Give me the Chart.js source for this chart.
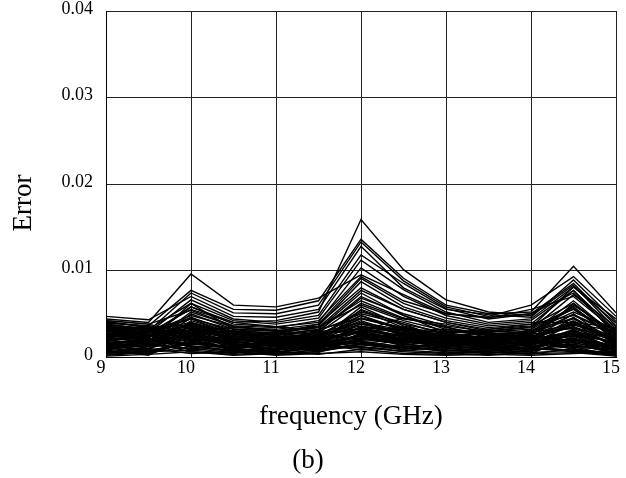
<!DOCTYPE html>
<html>
<head>
<meta charset="utf-8">
<script src="https://cdn.jsdelivr.net/npm/chart.js@4.4.1/dist/chart.umd.min.js"></script>
<style>
  html, body { margin: 0; padding: 0; background: #fff; }
  #wrap { width: 626px; height: 478px; }
</style>
</head>
<body>
<div id="wrap"><canvas id="myChart" width="626" height="478"></canvas></div>
<script>
// frequency points (GHz) where each run was sampled
const freqs = [9, 9.5, 10, 10.5, 11, 11.5, 12, 12.5, 13, 13.5, 14, 14.5, 15];
const freqTicks = [9, 10, 11, 12, 13, 14, 15];
const errorTicks = [0, 0.01, 0.02, 0.03, 0.04];

// runs with the big peaks at 10, 12 and 14.5 GHz
const highRuns = [
    [0.0030, 0.0025, 0.0058, 0.0040, 0.0042, 0.0052, 0.0159, 0.0101, 0.0066, 0.0052, 0.0048, 0.0083, 0.0032],
    [0.0044, 0.0040, 0.0096, 0.0060, 0.0058, 0.0068, 0.0095, 0.0072, 0.0050, 0.0045, 0.0055, 0.0070, 0.0030],
    [0.0040, 0.0036, 0.0077, 0.0055, 0.0054, 0.0065, 0.0136, 0.0091, 0.0060, 0.0050, 0.0052, 0.0105, 0.0051],
    [0.0035, 0.0030, 0.0074, 0.0051, 0.0050, 0.0060, 0.0133, 0.0088, 0.0058, 0.0047, 0.0060, 0.0093, 0.0047],
    [0.0047, 0.0043, 0.0070, 0.0047, 0.0046, 0.0055, 0.0128, 0.0080, 0.0055, 0.0049, 0.0046, 0.0089, 0.0041],
    [0.0025, 0.0028, 0.0066, 0.0044, 0.0040, 0.0048, 0.0118, 0.0085, 0.0056, 0.0044, 0.0050, 0.0085, 0.0036],
    [0.0038, 0.0032, 0.0062, 0.0042, 0.0038, 0.0045, 0.0112, 0.0078, 0.0052, 0.0040, 0.0044, 0.0081, 0.0039]
];

const midRuns = [
    [0.0020, 0.0022, 0.0058, 0.0038, 0.0035, 0.0040, 0.0103, 0.0070, 0.0048, 0.0038, 0.0042, 0.0077, 0.0030],
    [0.0042, 0.0038, 0.0054, 0.0036, 0.0034, 0.0042, 0.0093, 0.0065, 0.0050, 0.0046, 0.0050, 0.0074, 0.0028],
    [0.0030, 0.0026, 0.0030, 0.0034, 0.0032, 0.0038, 0.0091, 0.0062, 0.0045, 0.0036, 0.0040, 0.0040, 0.0034],
    [0.0015, 0.0018, 0.0062, 0.0032, 0.0030, 0.0036, 0.0087, 0.0058, 0.0042, 0.0034, 0.0038, 0.0077, 0.0025],
    [0.0033, 0.0035, 0.0024, 0.0030, 0.0028, 0.0034, 0.0077, 0.0055, 0.0040, 0.0032, 0.0036, 0.0062, 0.0022],
    [0.0028, 0.0024, 0.0046, 0.0028, 0.0026, 0.0032, 0.0074, 0.0048, 0.0028, 0.0030, 0.0034, 0.0081, 0.0044],
    [0.0036, 0.0031, 0.0044, 0.0026, 0.0025, 0.0030, 0.0068, 0.0050, 0.0036, 0.0029, 0.0032, 0.0058, 0.0018],
    [0.0016, 0.0012, 0.0050, 0.0032, 0.0026, 0.0038, 0.0080, 0.0055, 0.0040, 0.0030, 0.0028, 0.0065, 0.0024],
    [0.0023, 0.0016, 0.0052, 0.0036, 0.0030, 0.0034, 0.0065, 0.0045, 0.0034, 0.0026, 0.0030, 0.0056, 0.0026],
    [0.0010, 0.0020, 0.0030, 0.0012, 0.0018, 0.0030, 0.0070, 0.0048, 0.0032, 0.0026, 0.0020, 0.0050, 0.0014],
    [0.0034, 0.0028, 0.0044, 0.0032, 0.0030, 0.0026, 0.0048, 0.0032, 0.0022, 0.0020, 0.0032, 0.0072, 0.0035],
    [0.0026, 0.0018, 0.0032, 0.0020, 0.0016, 0.0028, 0.0062, 0.0044, 0.0038, 0.0028, 0.0022, 0.0042, 0.0016]
];

// the dense bundle near zero
const lowRuns = [
    [0.0012, 0.0018, 0.0035, 0.0022, 0.0015, 0.0020, 0.0048, 0.0030, 0.0022, 0.0018, 0.0014, 0.0040, 0.0009],
    [0.0030, 0.0022, 0.0015, 0.0010, 0.0014, 0.0025, 0.0020, 0.0028, 0.0016, 0.0020, 0.0025, 0.0018, 0.0012],
    [0.0005, 0.0008, 0.0042, 0.0028, 0.0020, 0.0012, 0.0030, 0.0045, 0.0035, 0.0022, 0.0018, 0.0030, 0.0015],
    [0.0025, 0.0030, 0.0020, 0.0008, 0.0005, 0.0015, 0.0055, 0.0038, 0.0020, 0.0012, 0.0020, 0.0062, 0.0025],
    [0.0018, 0.0010, 0.0028, 0.0030, 0.0025, 0.0018, 0.0012, 0.0020, 0.0030, 0.0028, 0.0010, 0.0008, 0.0005],
    [0.0040, 0.0035, 0.0030, 0.0018, 0.0022, 0.0028, 0.0040, 0.0025, 0.0018, 0.0024, 0.0030, 0.0045, 0.0020],
    [0.0008, 0.0015, 0.0010, 0.0005, 0.0008, 0.0012, 0.0025, 0.0015, 0.0010, 0.0008, 0.0012, 0.0022, 0.0003],
    [0.0022, 0.0028, 0.0048, 0.0035, 0.0030, 0.0035, 0.0060, 0.0042, 0.0030, 0.0025, 0.0022, 0.0035, 0.0018],
    [0.0035, 0.0025, 0.0018, 0.0022, 0.0018, 0.0010, 0.0035, 0.0028, 0.0025, 0.0015, 0.0018, 0.0028, 0.0010],
    [0.0015, 0.0012, 0.0025, 0.0015, 0.0010, 0.0022, 0.0045, 0.0032, 0.0028, 0.0030, 0.0035, 0.0055, 0.0022],
    [0.0002, 0.0005, 0.0012, 0.0008, 0.0004, 0.0006, 0.0015, 0.0010, 0.0008, 0.0005, 0.0003, 0.0010, 0.0002],
    [0.0028, 0.0020, 0.0038, 0.0025, 0.0028, 0.0020, 0.0028, 0.0035, 0.0022, 0.0018, 0.0028, 0.0038, 0.0030],
    [0.0038, 0.0032, 0.0022, 0.0015, 0.0012, 0.0018, 0.0022, 0.0018, 0.0014, 0.0020, 0.0015, 0.0025, 0.0008],
    [0.0020, 0.0015, 0.0045, 0.0030, 0.0022, 0.0025, 0.0038, 0.0030, 0.0020, 0.0015, 0.0025, 0.0060, 0.0028],
    [0.0006, 0.0003, 0.0018, 0.0025, 0.0015, 0.0010, 0.0018, 0.0022, 0.0015, 0.0012, 0.0008, 0.0015, 0.0004],
    [0.0032, 0.0028, 0.0055, 0.0040, 0.0035, 0.0030, 0.0050, 0.0038, 0.0028, 0.0032, 0.0038, 0.0048, 0.0026],
    [0.0014, 0.0022, 0.0008, 0.0012, 0.0020, 0.0015, 0.0010, 0.0014, 0.0020, 0.0010, 0.0015, 0.0020, 0.0012],
    [0.0004, 0.0010, 0.0022, 0.0018, 0.0012, 0.0008, 0.0040, 0.0025, 0.0012, 0.0010, 0.0014, 0.0032, 0.0006],
    [0.0036, 0.0030, 0.0040, 0.0028, 0.0025, 0.0032, 0.0045, 0.0034, 0.0024, 0.0022, 0.0030, 0.0052, 0.0032],
    [0.0012, 0.0008, 0.0015, 0.0020, 0.0028, 0.0022, 0.0030, 0.0020, 0.0018, 0.0025, 0.0020, 0.0016, 0.0010],
    [0.0024, 0.0026, 0.0036, 0.0022, 0.0020, 0.0024, 0.0052, 0.0040, 0.0026, 0.0020, 0.0026, 0.0058, 0.0020],
    [0.0009, 0.0014, 0.0028, 0.0016, 0.0008, 0.0014, 0.0025, 0.0018, 0.0012, 0.0014, 0.0010, 0.0028, 0.0007],
    [0.0030, 0.0034, 0.0025, 0.0020, 0.0024, 0.0018, 0.0015, 0.0022, 0.0028, 0.0022, 0.0012, 0.0020, 0.0014],
    [0.0003, 0.0006, 0.0008, 0.0004, 0.0010, 0.0015, 0.0008, 0.0012, 0.0006, 0.0004, 0.0008, 0.0012, 0.0001],
    [0.0020, 0.0024, 0.0034, 0.0026, 0.0022, 0.0016, 0.0035, 0.0030, 0.0032, 0.0026, 0.0018, 0.0024, 0.0018],
    [0.0042, 0.0038, 0.0026, 0.0014, 0.0018, 0.0022, 0.0042, 0.0026, 0.0020, 0.0018, 0.0024, 0.0035, 0.0012],
    [0.0011, 0.0016, 0.0040, 0.0024, 0.0016, 0.0020, 0.0058, 0.0036, 0.0024, 0.0018, 0.0016, 0.0046, 0.0015],
    [0.0027, 0.0020, 0.0014, 0.0018, 0.0012, 0.0026, 0.0032, 0.0024, 0.0014, 0.0012, 0.0020, 0.0030, 0.0008],
    [0.0007, 0.0004, 0.0020, 0.0010, 0.0006, 0.0010, 0.0022, 0.0016, 0.0018, 0.0015, 0.0012, 0.0018, 0.0010],
    [0.0018, 0.0026, 0.0024, 0.0014, 0.0016, 0.0030, 0.0028, 0.0020, 0.0024, 0.0028, 0.0026, 0.0034, 0.0022],
    [0.0013, 0.0009, 0.0032, 0.0022, 0.0014, 0.0012, 0.0020, 0.0026, 0.0020, 0.0016, 0.0014, 0.0022, 0.0006],
    [0.0001, 0.0003, 0.0006, 0.0002, 0.0004, 0.0008, 0.0012, 0.0006, 0.0004, 0.0002, 0.0005, 0.0008, 0.0003],
    [0.0029, 0.0032, 0.0028, 0.0024, 0.0020, 0.0020, 0.0038, 0.0028, 0.0026, 0.0022, 0.0020, 0.0040, 0.0016],
    [0.0017, 0.0012, 0.0036, 0.0018, 0.0012, 0.0024, 0.0054, 0.0034, 0.0022, 0.0024, 0.0028, 0.0044, 0.0019],
    [0.0039, 0.0036, 0.0034, 0.0020, 0.0016, 0.0014, 0.0026, 0.0022, 0.0016, 0.0014, 0.0018, 0.0026, 0.0011],
    [0.0010, 0.0006, 0.0016, 0.0012, 0.0009, 0.0018, 0.0034, 0.0024, 0.0010, 0.0008, 0.0006, 0.0020, 0.0004],
    [0.0022, 0.0018, 0.0026, 0.0016, 0.0020, 0.0012, 0.0018, 0.0012, 0.0016, 0.0018, 0.0022, 0.0012, 0.0013],
    [0.0005, 0.0012, 0.0024, 0.0006, 0.0003, 0.0005, 0.0028, 0.0016, 0.0008, 0.0006, 0.0004, 0.0024, 0.0007],
    [0.0033, 0.0024, 0.0030, 0.0012, 0.0010, 0.0016, 0.0024, 0.0014, 0.0012, 0.0010, 0.0016, 0.0014, 0.0005],
    [0.0015, 0.0020, 0.0012, 0.0006, 0.0012, 0.0006, 0.0016, 0.0008, 0.0005, 0.0008, 0.0010, 0.0006, 0.0002]
];

// more runs hugging the axis, they make the bottom band almost solid
const floorRuns = [
    [0.0019, 0.0014, 0.0009, 0.0016, 0.0021, 0.0011, 0.0026, 0.0019, 0.0011, 0.0017, 0.0009, 0.0027, 0.0017],
    [0.0026, 0.0031, 0.0019, 0.0009, 0.0015, 0.0019, 0.0011, 0.0007, 0.0013, 0.0009, 0.0017, 0.0011, 0.0009],
    [0.0008, 0.0002, 0.0027, 0.0019, 0.0023, 0.0027, 0.0033, 0.0021, 0.0027, 0.0019, 0.0023, 0.0037, 0.0024],
    [0.0034, 0.0026, 0.0011, 0.0013, 0.0007, 0.0021, 0.0017, 0.0011, 0.0009, 0.0013, 0.0019, 0.0009, 0.0004],
    [0.0016, 0.0019, 0.0031, 0.0021, 0.0013, 0.0007, 0.0021, 0.0017, 0.0019, 0.0023, 0.0013, 0.0031, 0.0014],
    [0.0023, 0.0017, 0.0006, 0.0003, 0.0006, 0.0003, 0.0009, 0.0004, 0.0003, 0.0006, 0.0004, 0.0005, 0.0001],
    [0.0037, 0.0033, 0.0021, 0.0017, 0.0013, 0.0019, 0.0031, 0.0023, 0.0017, 0.0015, 0.0021, 0.0029, 0.0021],
    [0.0004, 0.0007, 0.0017, 0.0011, 0.0017, 0.0013, 0.0024, 0.0013, 0.0007, 0.0011, 0.0007, 0.0017, 0.0005],
    [0.0021, 0.0023, 0.0039, 0.0027, 0.0019, 0.0023, 0.0044, 0.0033, 0.0023, 0.0021, 0.0027, 0.0049, 0.0027],
    [0.0031, 0.0019, 0.0013, 0.0007, 0.0010, 0.0009, 0.0014, 0.0009, 0.0011, 0.0004, 0.0011, 0.0007, 0.0003],
    [0.0013, 0.0016, 0.0029, 0.0009, 0.0005, 0.0011, 0.0019, 0.0027, 0.0017, 0.0013, 0.0009, 0.0021, 0.0012],
    [0.0027, 0.0029, 0.0033, 0.0023, 0.0027, 0.0017, 0.0030, 0.0019, 0.0021, 0.0024, 0.0029, 0.0033, 0.0015],
    [0.0006, 0.0010, 0.0004, 0.0006, 0.0002, 0.0004, 0.0006, 0.0003, 0.0002, 0.0003, 0.0002, 0.0004, 0.0006],
    [0.0041, 0.0034, 0.0037, 0.0024, 0.0021, 0.0025, 0.0036, 0.0027, 0.0021, 0.0019, 0.0023, 0.0041, 0.0019],
    [0.0011, 0.0013, 0.0021, 0.0014, 0.0009, 0.0016, 0.0015, 0.0011, 0.0015, 0.0011, 0.0016, 0.0013, 0.0008],
    [0.0024, 0.0021, 0.0016, 0.0011, 0.0019, 0.0024, 0.0040, 0.0031, 0.0013, 0.0016, 0.0014, 0.0039, 0.0018]
];

const allRuns = highRuns.concat(midRuns, lowRuns, floorRuns);

// "Error" sits a bit below the middle of the axis in the original, so draw it by hand
const yAxisTitle = {
    id: 'yAxisTitle',
    afterDraw(chart) {
        const c = chart.ctx;
        c.save();
        c.translate(24, 203);
        c.rotate(-Math.PI / 2);
        c.font = '27px "Liberation Serif"';
        c.fillStyle = '#000';
        c.textAlign = 'center';
        c.textBaseline = 'middle';
        c.fillText('Error', 0, 0);
        c.restore();
    }
};

new Chart(document.getElementById('myChart').getContext('2d'), {
    type: 'line',
    data: {
        datasets: allRuns.map(run => ({
            data: freqs.map((f, i) => ({ x: f, y: run[i] })),
            borderColor: '#000',
            borderWidth: 1.4,
            pointRadius: 0,
            tension: 0,
            fill: false
        }))
    },
    options: {
        responsive: false,
        animation: false,
        layout: {
            padding: { left: 0, right: 10, top: 11, bottom: 0 }
        },
        plugins: {
            legend: { display: false },
            tooltip: { enabled: false },
            title: {
                display: true,
                position: 'bottom',
                text: '(b)',
                color: '#000',
                font: { family: '"Liberation Serif"', size: 27, weight: 'normal', lineHeight: 1.2 },
                padding: { top: 0, bottom: 1 }
            }
        },
        scales: {
            x: {
                type: 'linear',
                min: 9,
                max: 15,
                afterBuildTicks: scale => {
                    scale.ticks = freqTicks.map(v => ({ value: v }));
                },
                afterFit: scale => {
                    scale.height = 87.6;
                },
                grid: { color: '#222', lineWidth: 1, drawTicks: false },
                border: { color: '#000' },
                ticks: {
                    color: '#000',
                    padding: 0,
                    labelOffset: -5,
                    maxRotation: 0,
                    font: { family: '"Liberation Serif"', size: 18 }
                },
                title: {
                    display: true,
                    // trailing spaces nudge it left, like the original
                    text: 'frequency (GHz)   ',
                    color: '#000',
                    font: { family: '"Liberation Serif"', size: 27, lineHeight: 1.2 },
                    padding: { top: 0, bottom: 11.4 }
                }
            },
            y: {
                min: 0,
                max: 0.04,
                afterBuildTicks: scale => {
                    scale.ticks = errorTicks.map(v => ({ value: v }));
                },
                afterFit: scale => {
                    scale.width = 106;
                    scale.paddingTop = 0;
                    scale.paddingBottom = 0;
                },
                grid: { color: '#222', lineWidth: 1, drawTicks: false },
                border: { color: '#000' },
                ticks: {
                    color: '#000',
                    padding: 13,
                    labelOffset: -2,
                    font: { family: '"Liberation Serif"', size: 18 }
                }
            }
        }
    },
    plugins: [yAxisTitle]
});
</script>
</body>
</html>
